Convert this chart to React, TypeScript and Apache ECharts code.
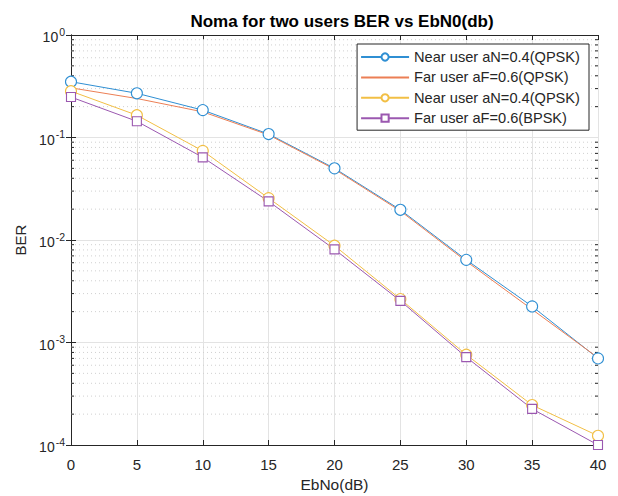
import React, { useEffect, useRef } from "react";
import * as echarts from "echarts";

const ebno = [0, 5, 10, 15, 20, 25, 30, 35, 40];
const nearQpsk = [0.35, 0.27, 0.185, 0.108, 0.05, 0.0197, 0.0064, 0.00225, 0.0007];
const farQpsk = [0.305, 0.24, 0.178, 0.106, 0.049, 0.0192, 0.0062, 0.0021, 0.00071];
const nearQpsk2 = [0.283, 0.165, 0.074, 0.0256, 0.0088, 0.00265, 0.00076, 0.000245, 0.000123];
const farBpsk = [0.248, 0.144, 0.064, 0.0238, 0.0081, 0.00255, 0.00072, 0.000225, 0.0001];
const seriesNames = [
  "Near user aN=0.4(QPSK)",
  "Far user aF=0.6(QPSK)",
  "Near user aN=0.4(QPSK) ",
  "Far user aF=0.6(BPSK)",
];
const colors = ["#2f8fd3", "#ec7f55", "#f2bf45", "#9b58b0"];
const decades = [1e-4, 1e-3, 1e-2, 1e-1, 1];
const minorMultipliers = [2, 3, 4, 5, 6, 7, 8, 9];

const FONT = "Liberation Sans, Arial, sans-serif";
const AXIS = "#262626";

export default function App() {
  const ref = useRef<HTMLDivElement>(null);
  useEffect(() => {
    if (!ref.current) return;
    const chart = echarts.init(ref.current, undefined, { renderer: "svg" });
    const minorVals: number[][] = [];
    decades.slice(0, 4).forEach((d) =>
      minorMultipliers.forEach((m) => minorVals.push([0, m * d]))
    );
    const mk = (name: string, data: number[], color: string, symbol: string, size: number) => ({
      name,
      type: "line",
      data: ebno.map((x, i) => [x, data[i]]),
      symbol,
      symbolSize: size,
      showSymbol: symbol !== "none",
      lineStyle: { color, width: 1 },
      itemStyle: { color: "#fff", borderColor: color, borderWidth: 1.1 },
      color,
      z: 5,
    });
    chart.setOption({
      animation: false,
      backgroundColor: "#ffffff",
      title: {
        text: "Noma for two users BER vs EbN0(db)",
        left: 337,
        top: 8,
        textAlign: "center",
        textStyle: { fontFamily: FONT, fontSize: 17, fontWeight: "bold", color: "#000" },
      },
      grid: { left: 71, right: 20, top: 35, bottom: 51, show: false, outerBoundsMode: "none", containLabel: false },
      legend: {
        right: 29,
        top: 44,
        orient: "vertical",
        data: seriesNames.map((n, i) =>
          i === 1 ? { name: n, itemStyle: { opacity: 0 } } : { name: n }
        ),
        itemWidth: 48,
        itemHeight: 9,
        itemGap: 4.4,
        padding: [5, 5, 4, 3],
        borderColor: AXIS,
        borderWidth: 1,
        borderRadius: 0,
        backgroundColor: "#fff",
        textStyle: { fontFamily: FONT, fontSize: 14.6, lineHeight: 16, color: AXIS },
      },
      xAxis: [
        {
          type: "value",
          min: 0,
          max: 40,
          interval: 5,
          name: "EbNo(dB)",
          nameLocation: "middle",
          nameGap: 31,
          nameTextStyle: { fontFamily: FONT, fontSize: 15.5, color: AXIS },
          axisLine: { lineStyle: { color: AXIS, width: 1 } },
          axisTick: { inside: true, length: 5, lineStyle: { color: AXIS } },
          axisLabel: { fontFamily: FONT, fontSize: 15, color: AXIS, margin: 12 },
          splitLine: { show: true, lineStyle: { color: "#e3e3e3", width: 1 } },
        },
        {
          type: "value",
          position: "top",
          min: 0,
          max: 40,
          interval: 5,
          axisLine: { show: true, lineStyle: { color: AXIS, width: 1 } },
          axisTick: { show: true, inside: true, length: 5, lineStyle: { color: AXIS } },
          axisLabel: { show: false },
          splitLine: { show: false },
        },
      ],
      yAxis: [
        {
          type: "log",
          logBase: 10,
          min: 1e-4,
          max: 1,
          name: "BER",
          nameLocation: "middle",
          nameGap: 42,
          nameTextStyle: { fontFamily: FONT, fontSize: 15, color: AXIS },
          axisLine: { show: true, lineStyle: { color: AXIS, width: 1 } },
          axisTick: { inside: true, length: 5, lineStyle: { color: AXIS } },
          axisLabel: {
            margin: 6,
            formatter: (v: number) => `{b|10}{s|${Math.round(Math.log10(v))}}`,
            rich: {
              b: { fontFamily: FONT, fontSize: 14, color: AXIS, lineHeight: 18, verticalAlign: "bottom" },
              s: { fontFamily: FONT, fontSize: 10.5, color: AXIS, lineHeight: 18, verticalAlign: "top", padding: [0, 0, 7, 1] },
            },
          },
          splitLine: { show: true, lineStyle: { color: "#e3e3e3", width: 1 } },
        },
        {
          type: "log",
          logBase: 10,
          min: 1e-4,
          max: 1,
          position: "right",
          axisLine: { show: true, lineStyle: { color: AXIS, width: 1 } },
          axisTick: { show: true, inside: true, length: 5, lineStyle: { color: AXIS } },
          axisLabel: { show: false },
          splitLine: { show: false },
        },
      ],
      series: [
        {
          type: "custom",
          silent: true,
          z: 1,
          data: minorVals,
          renderItem: (params: any, api: any) => {
            const v = api.value(1);
            const p0 = api.coord([0, v]);
            const p1 = api.coord([40, v]);
            return {
              type: "group",
              children: [
                {
                  type: "line",
                  shape: { x1: p0[0], y1: p0[1], x2: p1[0], y2: p1[1] },
                  style: { stroke: "#d0d0d0", lineWidth: 1, lineDash: [1, 3] },
                },
                {
                  type: "line",
                  shape: { x1: p0[0], y1: p0[1], x2: p0[0] + 3, y2: p0[1] },
                  style: { stroke: AXIS, lineWidth: 1 },
                },
                {
                  type: "line",
                  shape: { x1: p1[0] - 3, y1: p1[1], x2: p1[0], y2: p1[1] },
                  style: { stroke: AXIS, lineWidth: 1 },
                },
              ],
            };
          },
        },
        mk(seriesNames[0], nearQpsk, colors[0], "circle", 11),
        mk(seriesNames[1], farQpsk, colors[1], "none", 0),
        mk(seriesNames[2], nearQpsk2, colors[2], "circle", 11),
        mk(seriesNames[3], farBpsk, colors[3], "rect", 9),
      ],
    });
    return () => chart.dispose();
  }, []);
  return <div ref={ref} style={{ width: 618, height: 496, position: "absolute", left: 0, top: 0 }} />;
}
